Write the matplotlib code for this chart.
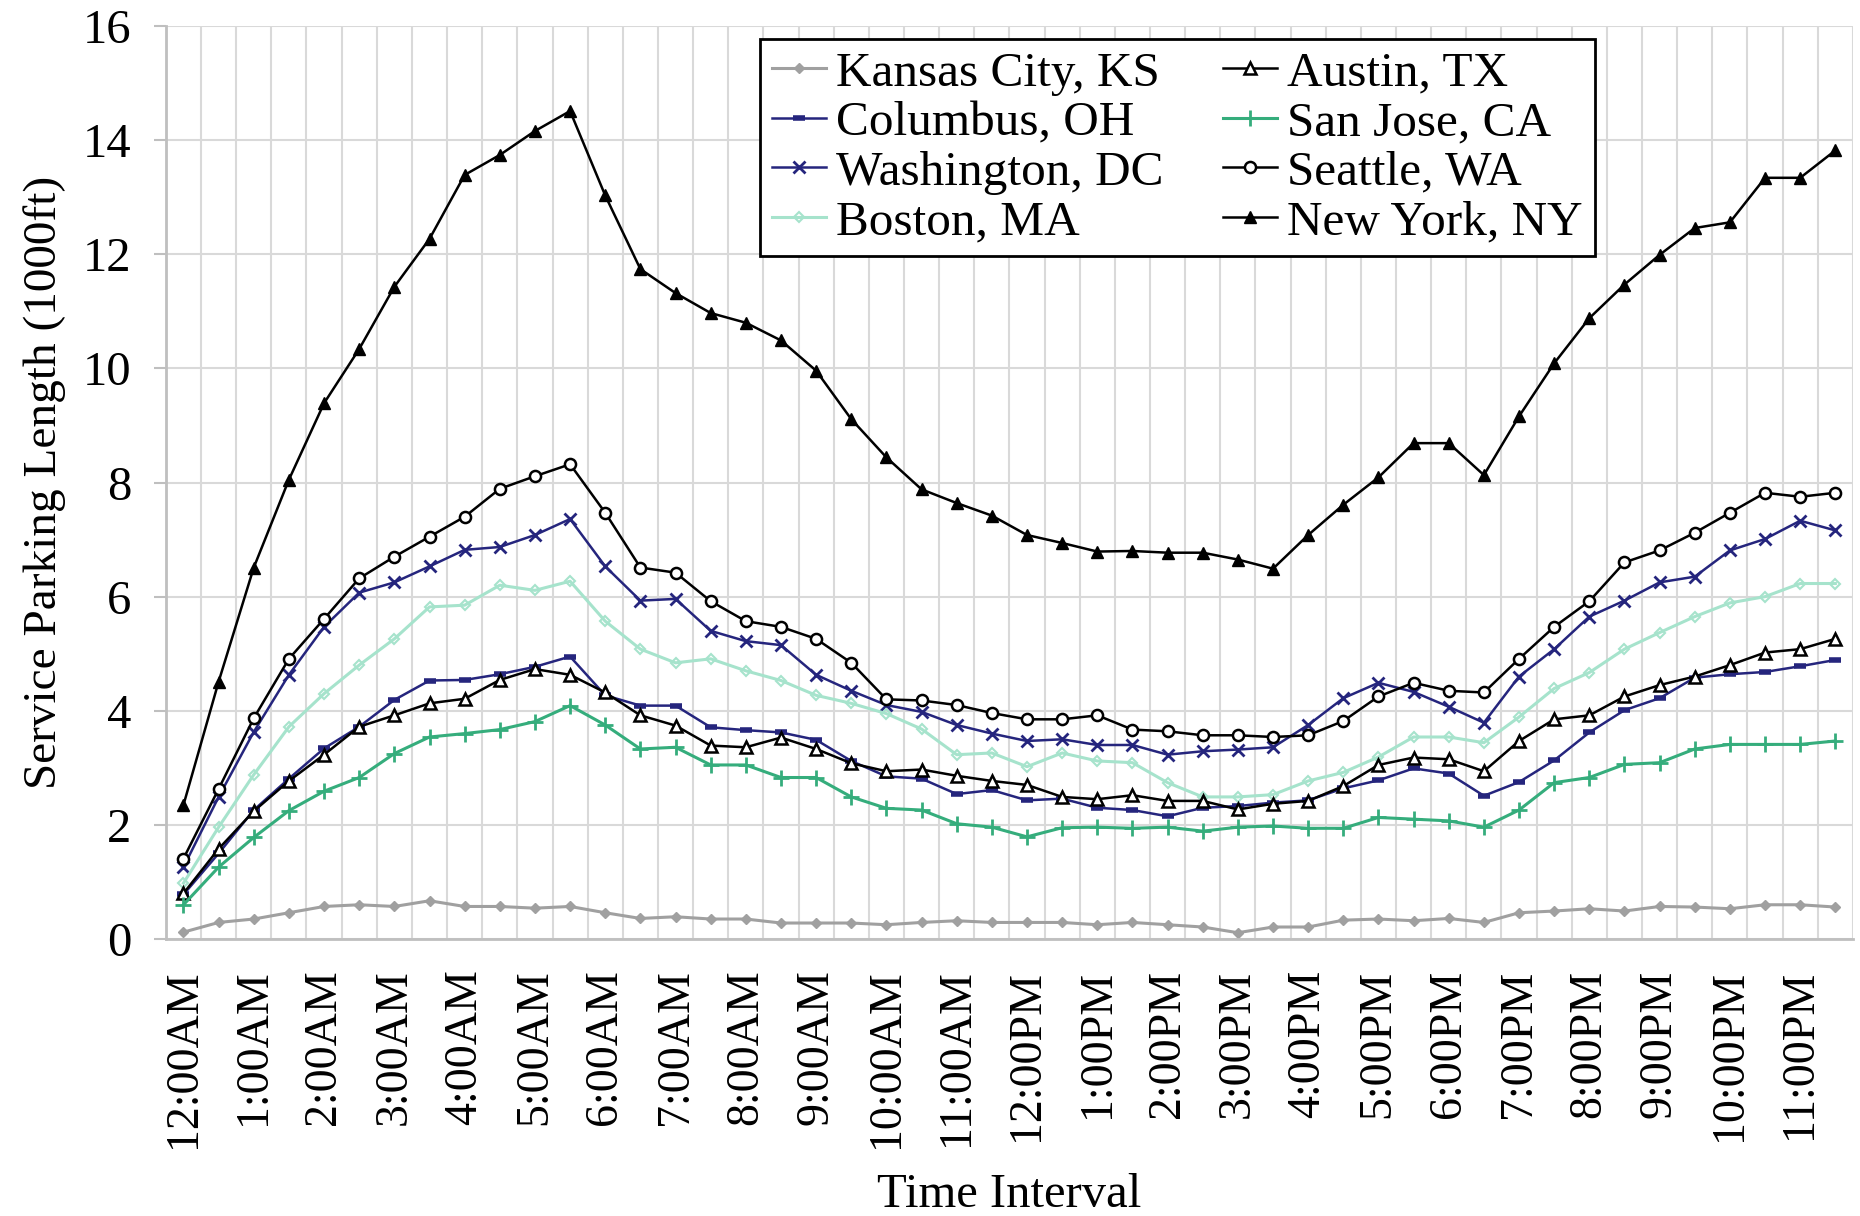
import matplotlib
matplotlib.use('Agg')
import matplotlib.pyplot as plt
import numpy as np

# Zeitachse: 48 halbe Stunden, beschriftet jede volle Stunde
hours = ['12:00AM'] + ['%d:00AM' % h for h in range(1, 12)] + \
        ['12:00PM'] + ['%d:00PM' % h for h in range(1, 12)]

kansas = [0.12, 0.29, 0.35, 0.46, 0.57, 0.60, 0.57, 0.67, 0.57, 0.57, 0.54, 0.57,
          0.46, 0.36, 0.39, 0.35, 0.35, 0.28, 0.28, 0.28, 0.25, 0.29, 0.32, 0.29,
          0.29, 0.29, 0.25, 0.29, 0.25, 0.21, 0.11, 0.21, 0.21, 0.33, 0.35, 0.32,
          0.36, 0.29, 0.46, 0.49, 0.53, 0.49, 0.57, 0.56, 0.53, 0.60, 0.60, 0.56]
columbus = [0.78, 1.50, 2.26, 2.81, 3.34, 3.72, 4.19, 4.53, 4.54, 4.64, 4.77, 4.95,
            4.27, 4.09, 4.09, 3.71, 3.66, 3.62, 3.49, 3.12, 2.85, 2.81, 2.54, 2.61,
            2.43, 2.46, 2.30, 2.26, 2.15, 2.30, 2.33, 2.39, 2.43, 2.64, 2.78, 2.99,
            2.90, 2.51, 2.75, 3.13, 3.62, 4.01, 4.22, 4.58, 4.64, 4.68, 4.78, 4.89]
washington = [1.26, 2.49, 3.63, 4.63, 5.47, 6.07, 6.25, 6.53, 6.82, 6.87, 7.08, 7.36,
              6.53, 5.93, 5.96, 5.40, 5.22, 5.15, 4.63, 4.35, 4.10, 3.98, 3.75, 3.60,
              3.47, 3.50, 3.40, 3.40, 3.23, 3.29, 3.32, 3.36, 3.75, 4.22, 4.49, 4.33,
              4.07, 3.79, 4.60, 5.08, 5.65, 5.93, 6.25, 6.35, 6.81, 7.01, 7.33, 7.16]
boston = [0.98, 1.96, 2.88, 3.72, 4.30, 4.80, 5.26, 5.82, 5.85, 6.20, 6.11, 6.27,
          5.57, 5.08, 4.84, 4.91, 4.70, 4.53, 4.27, 4.13, 3.95, 3.68, 3.23, 3.26,
          3.02, 3.26, 3.12, 3.09, 2.74, 2.49, 2.49, 2.53, 2.77, 2.92, 3.19, 3.54,
          3.54, 3.44, 3.89, 4.39, 4.67, 5.08, 5.37, 5.65, 5.89, 6.00, 6.23, 6.23]
austin = [0.80, 1.58, 2.24, 2.77, 3.23, 3.72, 3.92, 4.13, 4.21, 4.54, 4.73, 4.63,
          4.32, 3.92, 3.74, 3.39, 3.36, 3.53, 3.33, 3.08, 2.94, 2.97, 2.86, 2.77,
          2.70, 2.49, 2.45, 2.52, 2.42, 2.42, 2.27, 2.37, 2.42, 2.68, 3.05, 3.18,
          3.15, 2.94, 3.47, 3.85, 3.92, 4.25, 4.45, 4.60, 4.80, 5.02, 5.08, 5.26]
san_jose = [0.60, 1.26, 1.78, 2.25, 2.59, 2.83, 3.25, 3.54, 3.60, 3.67, 3.81, 4.09,
            3.75, 3.33, 3.36, 3.05, 3.05, 2.83, 2.83, 2.49, 2.29, 2.26, 2.02, 1.96,
            1.79, 1.95, 1.96, 1.94, 1.96, 1.89, 1.96, 1.98, 1.94, 1.94, 2.13, 2.10,
            2.07, 1.96, 2.26, 2.74, 2.83, 3.06, 3.09, 3.33, 3.41, 3.41, 3.41, 3.47]
seattle = [1.41, 2.63, 3.87, 4.91, 5.61, 6.32, 6.70, 7.05, 7.40, 7.89, 8.11, 8.32,
           7.47, 6.51, 6.42, 5.92, 5.57, 5.47, 5.26, 4.84, 4.20, 4.18, 4.10, 3.96,
           3.85, 3.85, 3.92, 3.67, 3.64, 3.57, 3.57, 3.54, 3.57, 3.82, 4.25, 4.49,
           4.35, 4.32, 4.91, 5.47, 5.92, 6.60, 6.81, 7.12, 7.47, 7.82, 7.75, 7.82]
new_york = [2.35, 4.51, 6.51, 8.05, 9.39, 10.34, 11.43, 12.27, 13.39, 13.74, 14.16, 14.51,
            13.03, 11.74, 11.32, 10.97, 10.80, 10.49, 9.96, 9.11, 8.44, 7.88, 7.64, 7.42,
            7.08, 6.94, 6.79, 6.80, 6.77, 6.77, 6.65, 6.49, 7.08, 7.61, 8.09, 8.69,
            8.69, 8.13, 9.16, 10.09, 10.88, 11.47, 11.99, 12.46, 12.56, 13.34, 13.34, 13.82]

navy = '#25257d'
x = np.arange(48)

plt.rcParams['font.family'] = ['Liberation Serif', 'DejaVu Serif']

fig = plt.figure(figsize=(18.6, 12.16), dpi=100)
ax = fig.add_axes([0.0892, 0.2278, 0.9070, 0.7508])

ax.plot(x, kansas, '-D', color='#a0a0a0', lw=2.2, ms=5, label='Kansas City, KS')
ax.plot(x, columbus, '-', color=navy, lw=1.8, marker='_', ms=9, mew=4, label='Columbus, OH')
ax.plot(x, washington, '-x', color=navy, lw=1.8, ms=9, mew=2, label='Washington, DC')
ax.plot(x, boston, '-D', color='#a6e3cc', lw=2.2, ms=5.5, mfc='none', mew=1.5, label='Boston, MA')
ax.plot(x, austin, '-^', color='black', lw=1.8, ms=8, mfc='white', mew=1.8, label='Austin, TX')
ax.plot(x, san_jose, '-+', color='#35ad7c', lw=2.2, ms=11, mew=2, label='San Jose, CA')
ax.plot(x, seattle, '-o', color='black', lw=1.8, ms=8, mfc='white', mew=1.8, label='Seattle, WA')
ax.plot(x, new_york, '-^', color='black', lw=1.8, ms=8, label='New York, NY')

ax.set_xlim(-0.5, 47.5)
ax.set_ylim(0, 16)
ax.set_yticks(np.arange(0, 17, 2))
ax.set_xticks(np.arange(0, 48, 2))
ax.set_xticklabels(hours, rotation=90)
ax.set_xticks(np.arange(-0.5, 48, 1), minor=True)

ax.grid(True, which='major', axis='y', color='#d9d9d9', lw=1.5)
ax.grid(True, which='minor', axis='x', color='#d9d9d9', lw=1.5)
ax.set_axisbelow(True)

for s in ['top', 'right']:
    ax.spines[s].set_visible(False)
for s in ['left', 'bottom']:
    ax.spines[s].set_color('#bfbfbf')
    ax.spines[s].set_linewidth(2)

ax.tick_params(axis='y', labelsize=35, length=9, width=1.5, color='#bfbfbf', pad=16)
ax.tick_params(axis='x', which='both', length=0, labelsize=33, pad=22)

ax.set_xlabel('Time Interval', fontsize=35, labelpad=18)
ax.set_ylabel('Service Parking Length (1000ft)', fontsize=34, labelpad=12)

leg = ax.legend(loc='upper left', bbox_to_anchor=(0.352, 0.986), ncol=2, fontsize=35.5,
                frameon=True, fancybox=False, edgecolor='black', framealpha=1,
                handlelength=1.1, handletextpad=0.2, columnspacing=1.2,
                labelspacing=0.1, borderpad=0.25, borderaxespad=0)
leg.get_frame().set_linewidth(2)

fig.savefig('out.png', dpi=100)
